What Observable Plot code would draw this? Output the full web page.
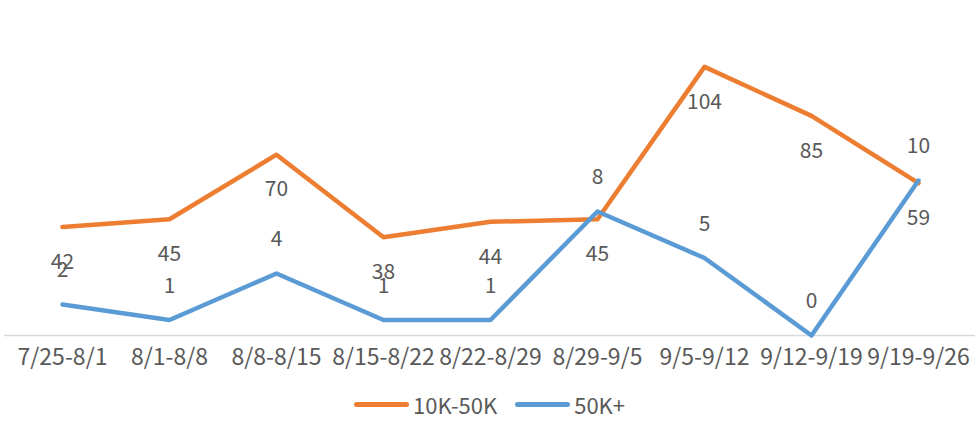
<!DOCTYPE html>
<html>
<head>
<meta charset="utf-8">
<script src="https://cdn.jsdelivr.net/npm/d3@7"></script>
<script src="https://cdn.jsdelivr.net/npm/@observablehq/plot@0.6"></script>
<style>
  html, body { margin: 0; padding: 0; background: #fff; }
  #wrap { position: relative; width: 979px; height: 385px; }
  #wrap svg { position: absolute; left: 0; top: 0; }
  #legend { width: 979px; height: 38px; display: flex; justify-content: center; align-items: center; gap: 18px;
    font-family: "Noto Sans CJK SC", "Noto Sans", sans-serif; font-size: 22px; color: #595959; }
  .item { display: flex; align-items: center; gap: 4px; }
  .sw { width: 55px; height: 5px; border-radius: 3px; }
</style>
</head>
<body>
<div id="wrap"></div>
<div id="legend"></div>
<script>
const categories = ["7/25-8/1", "8/1-8/8", "8/8-8/15", "8/15-8/22", "8/22-8/29", "8/29-9/5", "9/5-9/12", "9/12-9/19", "9/19-9/26"];
const series10K50K = [42, 45, 70, 38, 44, 45, 104, 85, 59];
const series50Kplus = [2, 1, 4, 1, 1, 8, 5, 0, 10];
const seriesNames = ["10K-50K", "50K+"];
const colors = ["#ED7D31", "#5B9BD5"];

const W = 979, H = 385;
const font = '"Noto Sans CJK SC", "Noto Sans", sans-serif';
const common = {
  width: W, height: H,
  marginLeft: 4, marginRight: 4, marginTop: 25, marginBottom: 50,
  style: { fontFamily: font, fontSize: "21px", color: "#595959", background: "transparent", overflow: "visible" }
};

const orange = categories.map((c, i) => ({ cat: c, v: series10K50K[i] }));
const blue = categories.map((c, i) => ({ cat: c, v: series50Kplus[i] }));

const p1 = Plot.plot({
  ...common,
  x: { type: "point", domain: categories, padding: 0.5, label: null },
  y: { domain: [0, 120], axis: null },
  marks: [
    Plot.ruleY([0], { stroke: "#d9d9d9", strokeWidth: 1.5 }),
    Plot.axisX({ tickSize: 0, tickPadding: 13, fontSize: 23, fill: "#595959", label: null }),
    Plot.lineY(orange, { x: "cat", y: "v", stroke: colors[0], strokeWidth: 4.5 }),
    Plot.text(orange, { x: "cat", y: "v", text: d => String(d.v), dy: 35, fill: "#595959", fontSize: 21 })
  ]
});
const p2 = Plot.plot({
  ...common,
  x: { type: "point", domain: categories, padding: 0.5, axis: null },
  y: { domain: [0, 20], axis: null },
  marks: [
    Plot.lineY(blue, { x: "cat", y: "v", stroke: colors[1], strokeWidth: 4.5 }),
    Plot.text(blue, { x: "cat", y: "v", text: d => String(d.v), dy: -34, fill: "#595959", fontSize: 21 })
  ]
});
document.getElementById("wrap").append(p1, p2);

const leg = document.getElementById("legend");
seriesNames.forEach((n, i) => {
  const it = document.createElement("div");
  it.className = "item";
  const sw = document.createElement("div");
  sw.className = "sw";
  sw.style.background = colors[i];
  const t = document.createElement("span");
  t.textContent = n;
  it.append(sw, t);
  leg.append(it);
});
</script>
</body>
</html>
